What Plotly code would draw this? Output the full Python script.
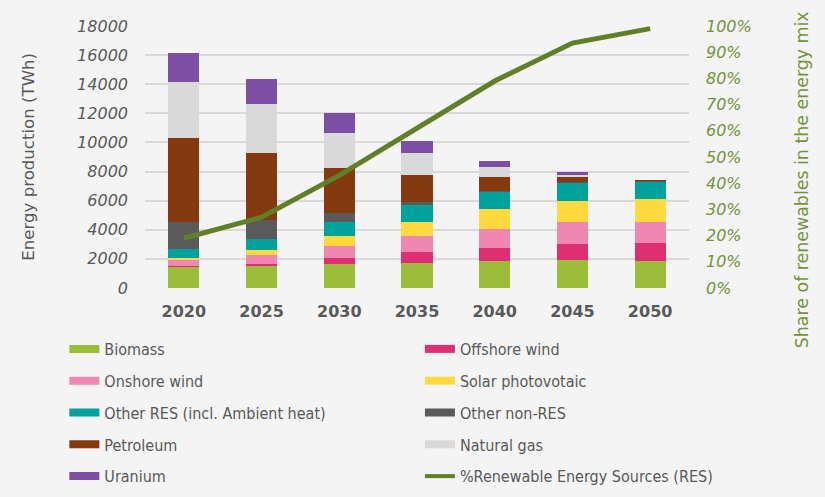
import plotly.graph_objects as go

years = ["2020", "2025", "2030", "2035", "2040", "2045", "2050"]
biomass = [1480, 1530, 1640, 1710, 1870, 1940, 1870]
offshore_wind = [40, 130, 410, 730, 910, 1090, 1210]
onshore_wind = [370, 620, 850, 1140, 1280, 1490, 1480]
solar_pv = [170, 340, 680, 980, 1350, 1460, 1560]
other_res = [610, 750, 980, 1140, 1210, 1280, 1230]
other_non_res = [1890, 1310, 620, 210, 30, 20, 10]
petroleum = [5780, 4610, 3080, 1850, 990, 360, 60]
natural_gas = [3810, 3380, 2400, 1490, 690, 120, 0]
uranium = [2010, 1710, 1370, 840, 390, 190, 0]
res_share = [0.19, 0.27, 0.43, 0.61, 0.79, 0.935, 0.99]

left_ticks = [0, 2000, 4000, 6000, 8000, 10000, 12000, 14000, 16000, 18000]
right_ticks = [0, 0.1, 0.2, 0.3, 0.4, 0.5, 0.6, 0.7, 0.8, 0.9, 1.0]

series = [
    ("Biomass", biomass, "#9cbd3a"),
    ("Offshore wind", offshore_wind, "#df2e72"),
    ("Onshore wind", onshore_wind, "#ef87b0"),
    ("Solar photovotaic", solar_pv, "#ffd93e"),
    ("Other RES (incl. Ambient heat)", other_res, "#00a39b"),
    ("Other non-RES", other_non_res, "#5a5a5a"),
    ("Petroleum", petroleum, "#843a0e"),
    ("Natural gas", natural_gas, "#d9d9d9"),
    ("Uranium", uranium, "#7c4fa5"),
]
line_name = "%Renewable Energy Sources (RES)"
line_color = "#607f27"

BG = "#f4f4f4"
GRAY = "#595959"
GREEN_TXT = "#76923c"
FONT = "DejaVu Sans"
LEG_FONT = "DejaVu Sans Condensed, Liberation Sans Narrow, DejaVu Sans"

fig = go.Figure()
for name, vals, col in series:
    fig.add_trace(go.Bar(x=years, y=vals, name=name, marker=dict(color=col, line=dict(width=0)),
                         showlegend=False))

fig.add_trace(go.Scatter(x=years, y=res_share, name=line_name, mode="lines", yaxis="y2",
                         line=dict(color=line_color, width=5), showlegend=False))

# legend entries (two columns, row-major as in the reference)
left_col = ["Biomass", "Onshore wind", "Other RES (incl. Ambient heat)", "Petroleum", "Uranium"]
right_col = ["Offshore wind", "Solar photovotaic", "Other non-RES", "Natural gas"]
colors = {n: c for n, _, c in series}
for i, n in enumerate(left_col):
    fig.add_trace(go.Scatter(x=[None], y=[None], mode="lines", name=n, legend="legend",
                             legendgroup="l%d" % i, line=dict(color=colors[n], width=8)))
for i, n in enumerate(right_col):
    fig.add_trace(go.Scatter(x=[None], y=[None], mode="lines", name=n, legend="legend2",
                             legendgroup="r%d" % i, line=dict(color=colors[n], width=8)))
fig.add_trace(go.Scatter(x=[None], y=[None], mode="lines", name=line_name, legend="legend2",
                         legendgroup="r9", line=dict(color=line_color, width=4)))

leg_common = dict(
    orientation="v", traceorder="grouped", tracegroupgap=8,
    font=dict(family=LEG_FONT, size=16, color=GRAY),
    bgcolor="rgba(0,0,0,0)", xref="container", yref="container",
    xanchor="left", yanchor="top",
)

fig.update_layout(
    width=825, height=497,
    margin=dict(l=144.5, r=135.5, t=25.5, b=208.7, autoexpand=False),
    paper_bgcolor=BG, plot_bgcolor=BG,
    barmode="stack", bargap=0.6,
    font=dict(family=FONT, color=GRAY),
    xaxis=dict(type="category", showgrid=False, zeroline=False, showline=False, ticks="",
               ticklabelstandoff=12,
               tickfont=dict(family=FONT, size=16, color=GRAY, weight="bold")),
    yaxis=dict(range=[0, 18000], tickvals=left_ticks, ticktext=[str(v) for v in left_ticks],
               showgrid=True, gridcolor="#d9d9d9", gridwidth=2, zeroline=False,
               showline=False, ticks="", ticklabelstandoff=16,
               tickfont=dict(family=FONT, size=16, color=GRAY, style="italic")),
    yaxis2=dict(range=[0, 1], overlaying="y", side="right", tickvals=right_ticks,
                tickformat=".0%", showgrid=False, zeroline=False, showline=False, ticks="",
                ticklabelstandoff=16,
                tickfont=dict(family=FONT, size=16, color=GREEN_TXT, style="italic")),
    legend=dict(x=0.078, y=0.332, **leg_common),
    legend2=dict(x=0.509, y=0.332, **leg_common),
    annotations=[
        dict(text="Energy production (TWh)", xref="paper", yref="paper", x=-0.2156, y=0.5,
             textangle=-90, showarrow=False, xanchor="center", yanchor="middle",
             font=dict(family=FONT, size=16.6, color=GRAY)),
        dict(text="Share of renewables in the energy mix", xref="paper", yref="paper",
             x=1.208, y=0.412, textangle=-90, showarrow=False, xanchor="center",
             yanchor="middle", font=dict(family=FONT, size=17.4, color=GREEN_TXT)),
    ],
)

fig.write_html(
    "out.html",
    config={"displayModeBar": False},
    post_script="document.body.style.margin='0';document.body.style.background='%s';" % BG,
)
